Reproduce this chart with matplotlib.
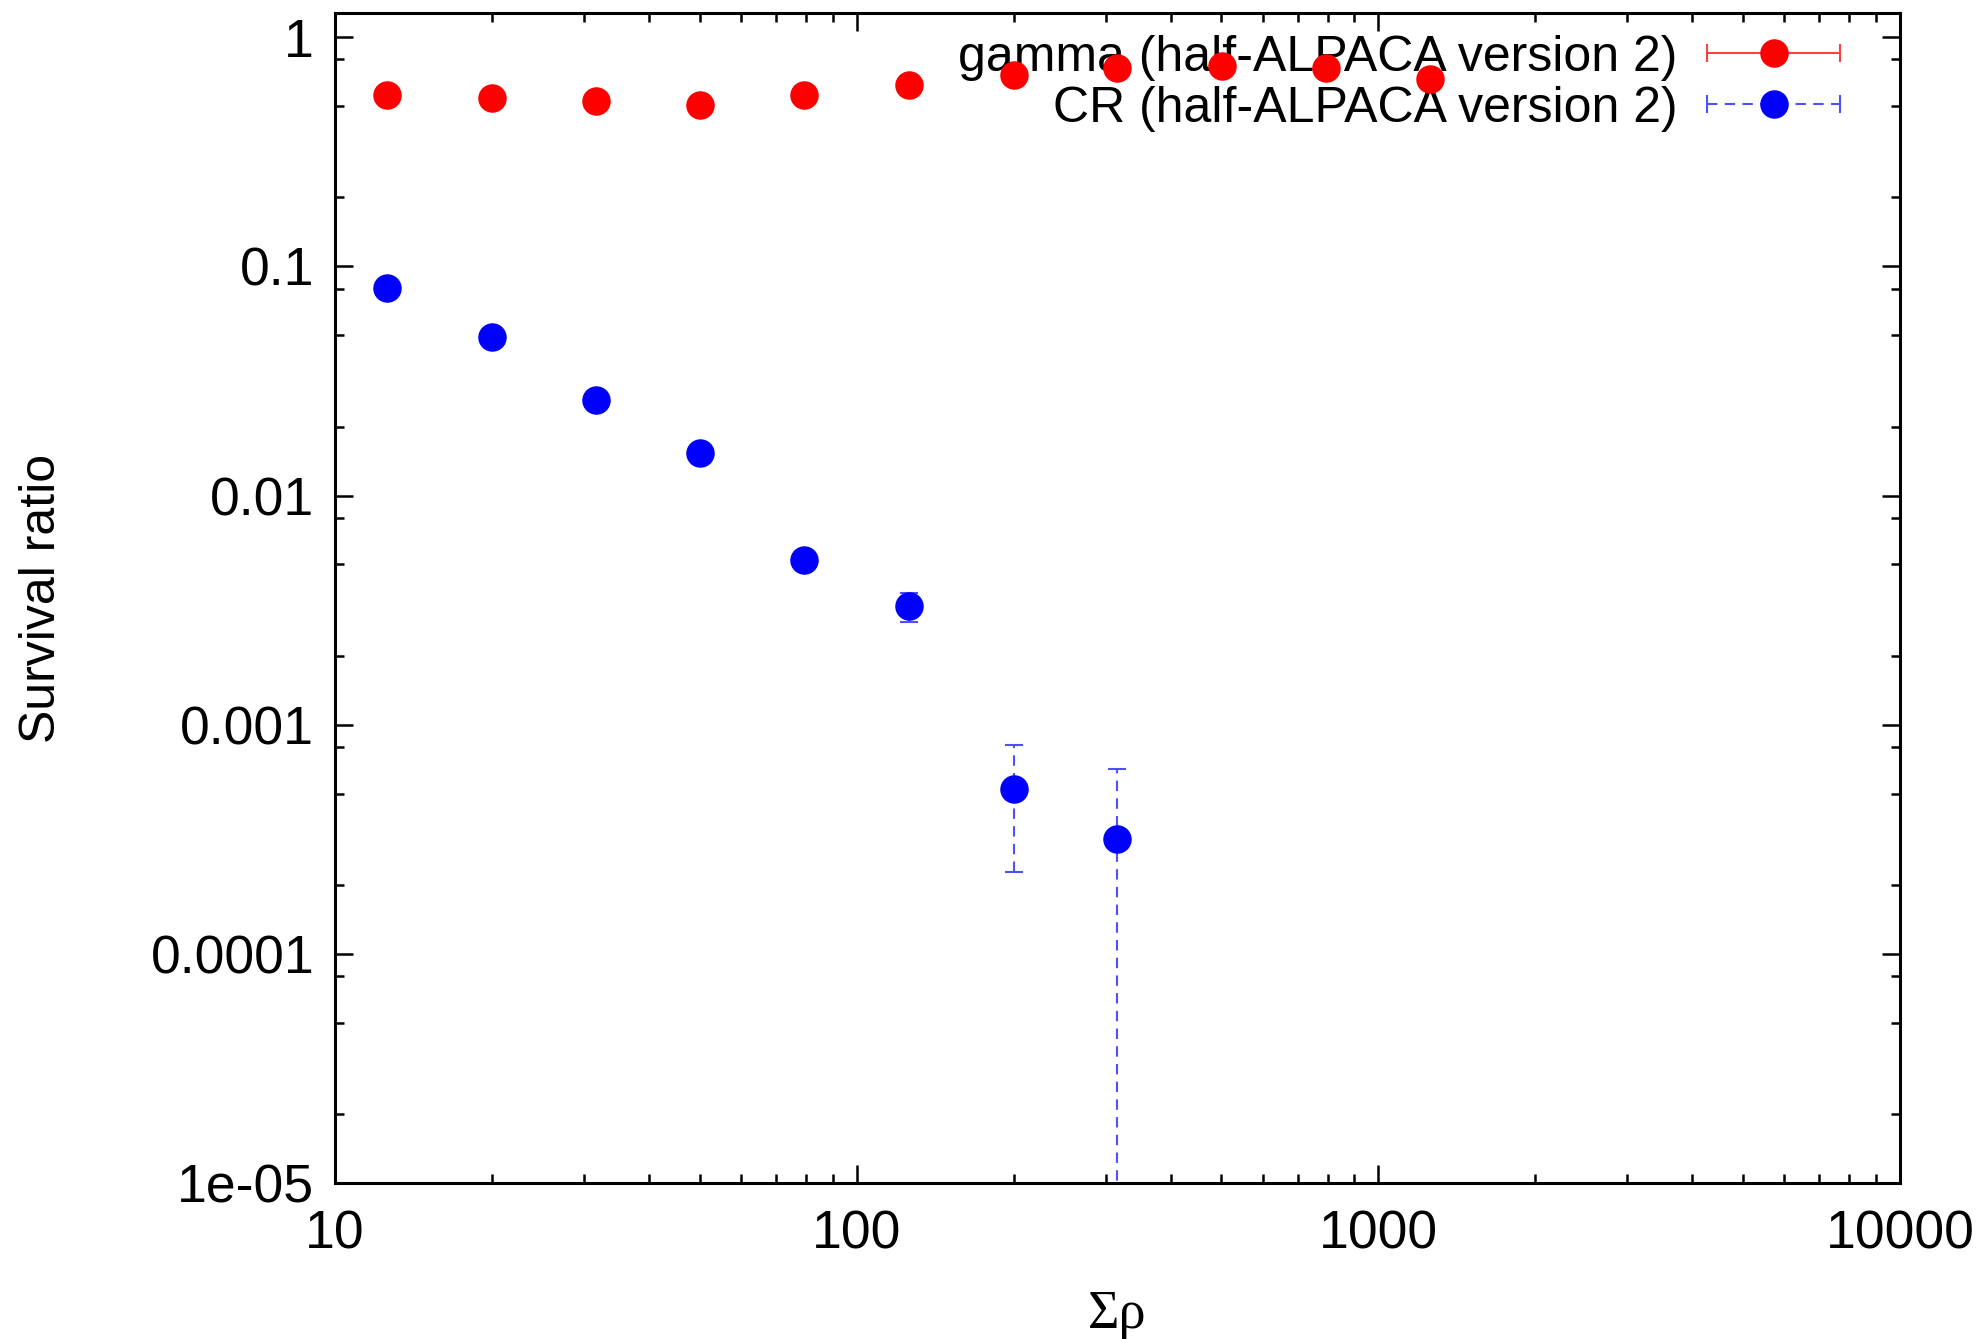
import numpy as np
import matplotlib
matplotlib.use("Agg")
import matplotlib.pyplot as plt
from matplotlib.lines import Line2D
from matplotlib.legend_handler import HandlerLine2D, HandlerTuple
from matplotlib.ticker import FixedLocator, FixedFormatter, LogLocator, NullFormatter

# <------------------------------ data --------------------------------------->
sum_rho = [12.6, 20.0, 31.6, 50.1, 79.4, 126, 200, 316, 501, 794, 1259]

gamma_ratio = [0.560, 0.544, 0.527, 0.508, 0.559, 0.621, 0.687, 0.737, 0.752, 0.737, 0.658]
gamma_err = [0.005, 0.005, 0.005, 0.005, 0.005, 0.005, 0.005, 0.005, 0.005, 0.005, 0.005]

cr_rho = [12.6, 20.0, 31.6, 50.1, 79.4, 126, 200, 316]
cr_ratio = [0.0806, 0.0491, 0.0260, 0.0154, 0.00521, 0.00329, 0.000522, 0.000318]
cr_lo = [0.0790, 0.0480, 0.0253, 0.0149, 0.00495, 0.00281, 0.000228, 1e-9]
cr_hi = [0.0822, 0.0502, 0.0267, 0.0159, 0.00547, 0.00377, 0.000815, 0.000642]

xticks = [10, 100, 1000, 10000]
xlabels = ["10", "100", "1000", "10000"]
yticks = [1e-5, 1e-4, 1e-3, 1e-2, 1e-1, 1]
ylabels = ["1e-05", "0.0001", "0.001", "0.01", "0.1", "1"]

# <------------------------------ figure ------------------------------------->
plt.rcParams['font.family'] = ['Liberation Sans', 'DejaVu Sans']
fs = 36
fs_tick = 38.5

fig = plt.figure(figsize=(19.87, 13.39), dpi=100)
ax = fig.add_axes([0.1686, 0.1165, 0.9562 - 0.1686, 0.990 - 0.1165])
ax.set_xscale('log')
ax.set_yscale('log')

red = '#ff0000'
blue = '#0000ff'

gerr = np.array([gamma_err, gamma_err])
ax.errorbar(sum_rho, gamma_ratio, yerr=gerr, fmt='o', color=red, ms=19.5,
            ecolor='#ff4040', elinewidth=1.5, capsize=6.5, capthick=1.5, zorder=3)

cr_ratio_a = np.array(cr_ratio)
cerr = np.array([cr_ratio_a - np.array(cr_lo), np.array(cr_hi) - cr_ratio_a])
eb = ax.errorbar(cr_rho, cr_ratio, yerr=cerr, fmt='o', color=blue, ms=19.5,
                 ecolor='#4f4fff', elinewidth=1.5, capsize=6.5, capthick=1.5, zorder=3)
eb[2][0].set_linestyle((0, (5, 3.5)))

ax.set_xlim(10, 10000)
ax.set_ylim(1e-5, 1.27)

ax.xaxis.set_major_locator(FixedLocator(xticks))
ax.xaxis.set_major_formatter(FixedFormatter(xlabels))
ax.xaxis.set_minor_locator(LogLocator(base=10, subs=np.arange(2, 10)))
ax.xaxis.set_minor_formatter(NullFormatter())
ax.yaxis.set_major_locator(FixedLocator(yticks))
ax.yaxis.set_major_formatter(FixedFormatter(ylabels))
ax.yaxis.set_minor_locator(LogLocator(base=10, subs=[2, 5, 8]))
ax.yaxis.set_minor_formatter(NullFormatter())

ax.tick_params(which='both', direction='in', top=True, right=True, width=1.8,
               labelsize=fs_tick)
ax.tick_params(which='major', length=13)
ax.tick_params(which='minor', length=6.5)
ax.tick_params(axis='x', which='major', pad=19)
ax.tick_params(axis='y', which='major', pad=15)
for s in ax.spines.values():
    s.set_linewidth(2.2)

ax.set_ylabel('Survival ratio', fontsize=fs)
ax.yaxis.set_label_coords(-0.1875, 0.5)
ax.yaxis.label.set_va('center')
ax.set_xlabel('Σρ', fontsize=fs + 3, family=['Liberation Serif', 'DejaVu Serif'])
ax.xaxis.set_label_coords(0.5, -0.113)
ax.xaxis.label.set_va('center')

# legend a la gnuplot: linea horizontal con topes en los extremos
g_line = Line2D([], [], color='#ff4040', lw=1.5, marker='o', ms=19.5,
                mfc=red, mec=red)
g_caps = Line2D([], [], color='#ff4040', lw=0, marker='|', ms=13, mew=1.5)
c_line = Line2D([], [], color='#4f4fff', lw=1.5, ls=(0, (5, 3.5)), marker='o',
                ms=19.5, mfc=blue, mec=blue)
c_caps = Line2D([], [], color='#4f4fff', lw=0, marker='|', ms=13, mew=1.5)
hmap = {g_caps: HandlerLine2D(numpoints=2, marker_pad=0),
        c_caps: HandlerLine2D(numpoints=2, marker_pad=0),
        tuple: HandlerTuple(ndivide=1)}
leg = ax.legend([(g_line, g_caps), (c_line, c_caps)],
                ['gamma (half-ALPACA version 2)', 'CR (half-ALPACA version 2)'],
                handler_map=hmap, loc='upper right', bbox_to_anchor=(0.926, 0.974),
                bbox_transform=fig.transFigure, frameon=False, fontsize=fs,
                markerfirst=False, numpoints=1, handlelength=2.65,
                handletextpad=0.6, labelspacing=0.1, borderpad=0,
                borderaxespad=0)
leg.set_zorder(2)  # los puntos quedan por encima del texto, como en gnuplot

fig.savefig('out.png', dpi=100)
